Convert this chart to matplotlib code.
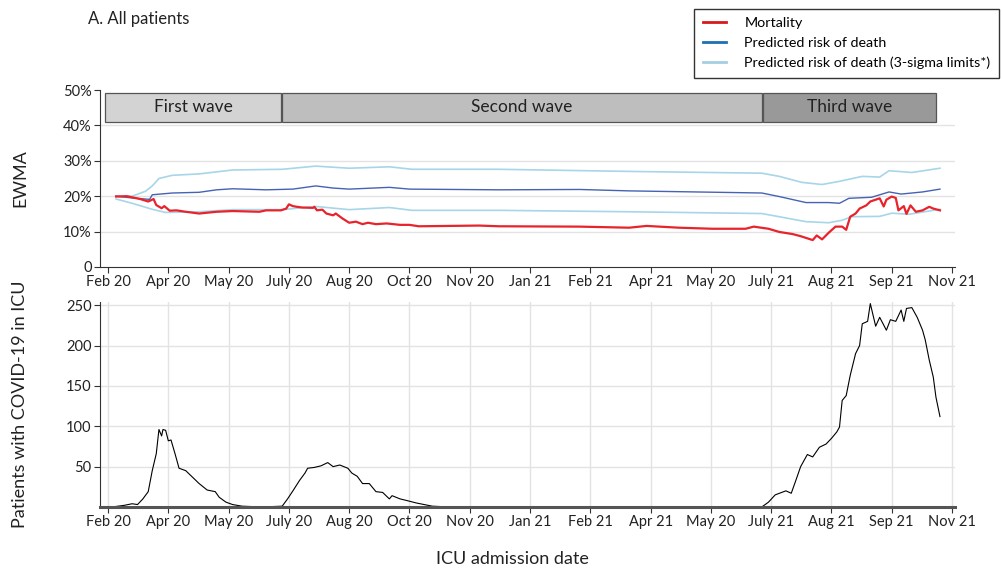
import matplotlib
matplotlib.use("Agg")
import matplotlib.pyplot as plt
from matplotlib.lines import Line2D
from matplotlib.patches import Rectangle
from matplotlib.ticker import FuncFormatter

plt.rcParams['font.family'] = ['Lato', 'DejaVu Sans']

# x positions are days from the first tick; ticks are evenly spaced (45 days)
tick_days = [0, 45, 90, 135, 180, 225, 270, 315, 360, 405, 450, 495, 540, 585, 630]
tick_labels = ["Feb 20", "Apr 20", "May 20", "July 20", "Aug 20", "Oct 20", "Nov 20",
               "Jan 21", "Feb 21", "Apr 21", "May 20", "July 21", "Aug 21", "Sep 21", "Nov 21"]

# EWMA mortality (%)
mort_day = [6, 14, 24, 30, 34, 36, 40, 42, 46, 51, 58, 68, 81, 93, 113, 118, 129, 133, 135,
            138, 141, 145, 153, 154, 156, 160, 163, 168, 170, 175, 180, 185, 190, 194, 200,
            208, 218, 225, 232, 277, 292, 352, 389, 402, 426, 451, 476, 482, 493, 501, 511,
            517, 526, 529, 533, 538, 543, 548, 551, 554, 558, 561, 566, 569, 576, 579, 581,
            585, 588, 590, 594, 596, 599, 603, 608, 613, 616, 621]
mort_val = [19.9, 20.0, 19.2, 18.5, 19.2, 17.5, 16.6, 17.2, 15.9, 16.0, 15.6, 15.1, 15.6, 15.8,
            15.6, 16.0, 16.0, 16.5, 17.7, 17.2, 17.0, 16.8, 16.7, 17.0, 16.0, 16.2, 15.1, 14.6,
            15.1, 13.7, 12.5, 12.8, 12.1, 12.5, 12.1, 12.3, 11.9, 11.9, 11.5, 11.7, 11.5, 11.4,
            11.1, 11.6, 11.1, 10.8, 10.8, 11.4, 10.8, 9.9, 9.3, 8.7, 7.6, 8.9, 7.8, 9.7, 11.4,
            11.4, 10.5, 14.2, 15.1, 16.5, 17.4, 18.5, 19.4, 17.1, 19.0, 19.9, 19.5, 16.0, 17.2,
            15.0, 17.4, 15.6, 16.0, 17.0, 16.5, 16.0]

# predicted risk of death (%)
pred_day = [6, 18, 31, 33, 48, 68, 81, 93, 118, 138, 155, 168, 180, 210, 225, 292, 352, 389,
            488, 501, 521, 538, 546, 553, 570, 583, 592, 608, 621]
pred_val = [20.0, 19.5, 19.1, 20.4, 20.9, 21.1, 21.8, 22.1, 21.8, 22.0, 22.9, 22.3, 22.0, 22.5,
            22.0, 21.8, 21.9, 21.5, 20.9, 19.9, 18.2, 18.2, 18.0, 19.4, 19.7, 21.2, 20.6, 21.2,
            22.0]

# 3-sigma limits (%)
upper_day = [6, 18, 28, 33, 38, 48, 68, 93, 130, 155, 180, 210, 227, 292, 389, 488, 501, 518,
             533, 546, 563, 576, 583, 600, 621]
upper_val = [20.0, 20.0, 21.4, 22.9, 25.0, 25.9, 26.3, 27.4, 27.6, 28.5, 27.9, 28.3, 27.6, 27.6,
             27.0, 26.5, 25.6, 23.9, 23.3, 24.2, 25.6, 25.4, 27.2, 26.7, 27.9]
lower_day = [6, 18, 33, 43, 68, 93, 130, 155, 180, 210, 227, 292, 389, 488, 501, 521, 538, 548,
             555, 576, 585, 598, 621]
lower_val = [19.2, 18.0, 16.3, 15.4, 15.6, 16.2, 16.2, 17.1, 16.2, 16.8, 16.0, 16.0, 15.6, 15.1,
             14.2, 12.8, 12.5, 13.2, 14.2, 14.3, 15.2, 14.9, 16.3]

# patients with COVID-19 in ICU
icu_day = [3, 12, 18, 22, 26, 30, 33, 36, 38, 40, 41, 43, 45, 47, 50, 53, 58, 63, 68, 74, 80,
           83, 88, 93, 100, 115, 130, 134, 138, 143, 147, 149, 154, 159, 164, 168, 173, 179,
           182, 186, 190, 195, 200, 205, 210, 212, 218, 223, 230, 242, 255, 488, 493, 498, 506,
           510, 513, 517, 522, 526, 531, 536, 540, 544, 546, 548, 551, 554, 558, 561, 563, 567,
           569, 573, 576, 581, 584, 588, 592, 594, 596, 600, 604, 608, 610, 613, 616, 618, 621]
icu_val = [0, 2, 4, 3, 10, 19, 45, 66, 96, 88, 96, 95, 82, 83, 66, 48, 45, 37, 29, 21, 19, 12,
           6, 3, 1, 0, 1, 10, 20, 33, 42, 48, 49, 51, 55, 50, 52, 48, 42, 38, 29, 29, 19, 18, 10,
           14, 10, 8, 5, 1, 0, 0, 6, 15, 20, 17, 31, 50, 65, 62, 74, 78, 85, 93, 99, 132, 138,
           163, 190, 200, 227, 230, 252, 224, 235, 219, 232, 230, 244, 230, 246, 247, 235, 219,
           207, 182, 161, 136, 112]

waves = ["First wave", "Second wave", "Third wave"]
wave_start = [-2, 130, 489]
wave_end = [129, 488, 618]
wave_colors = ["#d3d3d3", "#bebebe", "#999999"]

red = "#e8232b"
blue = "#4762b3"
light = "#a6d6e8"
grid = "#e3e3e3"
txt = "#222222"

fig = plt.figure(figsize=(10.02, 5.69), dpi=100)
ax1 = fig.add_axes([0.0998, 0.5308, 0.853, 0.311])
ax2 = fig.add_axes([0.0998, 0.109, 0.853, 0.3603])

for ax in (ax1, ax2):
    ax.set_xlim(-6, 632)
    ax.set_xticks(tick_days)
    ax.set_xticklabels(tick_labels)
    for s in ("top", "right"):
        ax.spines[s].set_visible(False)
    for s in ("left", "bottom"):
        ax.spines[s].set_color("#333333")
    ax.tick_params(labelsize=10.5, colors="#333333", labelcolor=txt, length=4, pad=2)
    ax.set_axisbelow(True)

# top panel
ax1.set_ylim(0, 50)
ax1.set_yticks([0, 10, 20, 30, 40, 50])
ax1.yaxis.set_major_formatter(FuncFormatter(lambda v, p: "0" if v == 0 else f"{v:.0f}%"))
for v in [10, 20, 30, 40]:
    ax1.axhline(v, color=grid, lw=1, zorder=0)
ax1.plot(upper_day, upper_val, color=light, lw=1.2)
ax1.plot(lower_day, lower_val, color=light, lw=1.2)
ax1.plot(pred_day, pred_val, color=blue, lw=1.0)
ax1.plot(mort_day, mort_val, color=red, lw=1.6)
for name, s, e, c in zip(waves, wave_start, wave_end, wave_colors):
    ax1.add_patch(Rectangle((s, 41), e - s, 8.2, facecolor=c, edgecolor="#555555", lw=0.9))
    ax1.text((s + e) / 2, 45.1, name, ha="center", va="center", fontsize=12.5, color=txt)

# bottom panel
ax2.set_ylim(0, 254)
ax2.set_yticks([50, 100, 150, 200, 250])
ax2.grid(True, color=grid, lw=1)
ax2.spines["bottom"].set_linewidth(2.2)
ax2.spines["bottom"].set_color("#555555")
ax2.plot(icu_day, icu_val, color="black", lw=0.8)

fig.text(0.088, 0.966, "A. All patients", fontsize=12, color=txt, va="center")
fig.text(0.02, 0.687, "EWMA", fontsize=13, rotation=90, ha="center", va="center", color=txt)
fig.text(0.02, 0.29, "Patients with COVID-19 in ICU", fontsize=13, rotation=90,
         ha="center", va="center", color=txt)
fig.text(0.511, 0.0176, "ICU admission date", fontsize=13, ha="center", va="center", color=txt)

handles = [Line2D([], [], color="#d7191c", lw=2),
           Line2D([], [], color="#1f6fb4", lw=2),
           Line2D([], [], color="#a6cee3", lw=2)]
labels = ["Mortality", "Predicted risk of death", "Predicted risk of death (3-sigma limits*)"]
leg = fig.legend(handles, labels, loc="upper right", bbox_to_anchor=(1.0, 0.99),
                 fontsize=10.3, frameon=True, fancybox=False, handlelength=1.6,
                 borderpad=0.6, labelspacing=0.55, handletextpad=1.3, borderaxespad=0.2)
leg.get_frame().set_edgecolor("black")
leg.get_frame().set_linewidth(1)

fig.savefig("out.png", dpi=100)
